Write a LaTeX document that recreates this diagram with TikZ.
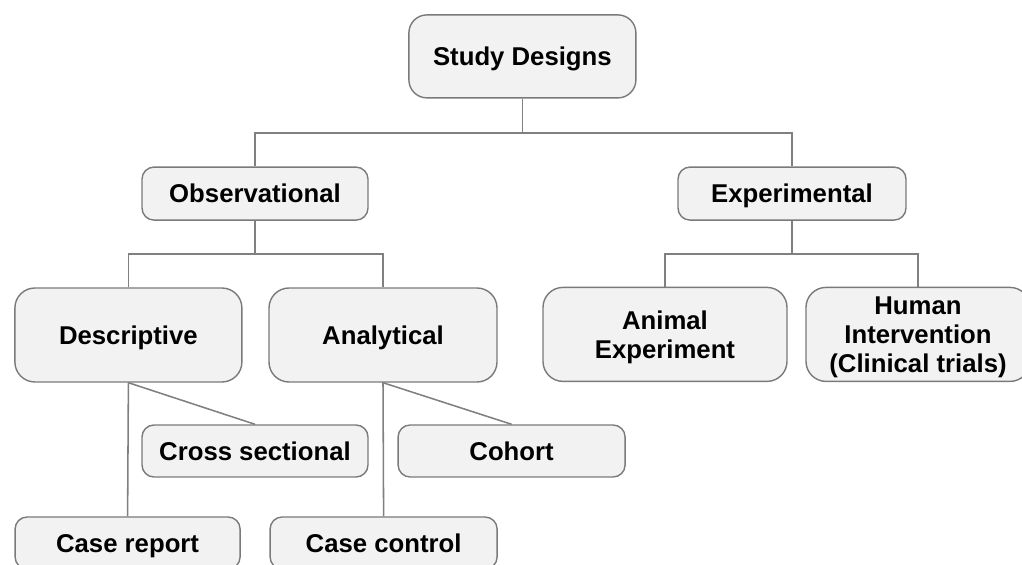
\documentclass[tikz,border=0pt]{standalone}
\usepackage{fontspec}
\setmainfont{Liberation Sans}
\definecolor{boxfill}{HTML}{F2F2F2}
\definecolor{boxline}{HTML}{7A7A7A}
\definecolor{linkgray}{HTML}{808080}

\begin{document}
\begin{tikzpicture}[font=\fontsize{18.3}{20.5}\selectfont\bfseries]
	
	% Styles for the boxes and the links
	\tikzset{
		design/.style={rectangle,draw=boxline,fill=boxfill,line width=1pt,
			align=center,inner sep=0pt},
		oneline/.style={text height=13.1pt,text depth=0pt},
		manyline/.style={text depth=-0.2cm},
		tallbox/.style={design,rounded corners=0.5cm,minimum height=2.35cm},
		flatbox/.style={design,oneline,rounded corners=0.3cm,minimum height=1.3cm},
		link/.style={draw=linkgray,line width=1.1pt}
	}
	
	\useasboundingbox (0,0) rectangle (25.55,-14.125);
	
	%========================================
	% Top level
	%========================================
	\node[design,oneline,rounded corners=0.45cm,minimum width=5.675cm,minimum height=2.075cm]
	(study) at (13.06,-1.41) {Study Designs};
	
	\node[flatbox,minimum width=5.65cm,minimum height=1.325cm] (obs) at (6.375,-4.84) {Observational};
	\node[flatbox,minimum width=5.7cm,minimum height=1.325cm] (exp) at (19.8,-4.84) {Experimental};
	
	%========================================
	% Observational branch
	%========================================
	\node[tallbox,oneline,minimum width=5.675cm] (desc) at (3.21,-8.375) {Descriptive};
	\node[tallbox,oneline,minimum width=5.7cm] (ana) at (9.575,-8.375) {Analytical};
	
	\node[flatbox,minimum width=5.65cm] (cross) at (6.375,-11.275) {Cross sectional};
	\node[flatbox,minimum width=5.675cm] (cohort) at (12.79,-11.275) {Cohort};
	\node[flatbox,minimum width=5.625cm] (caserep) at (3.19,-13.575) {Case report};
	\node[flatbox,minimum width=5.675cm] (casectl) at (9.59,-13.575) {Case control};
	
	%========================================
	% Experimental branch
	%========================================
	\node[tallbox,manyline,minimum width=6.1cm]
	(animal) at (16.625,-8.36) {Animal\\Experiment};
	\node[tallbox,manyline,minimum width=5.6cm]
	(human) at (22.95,-8.36) {Human\\Intervention\\(Clinical trials)};
	
	%========================================
	% Links
	%========================================
	\coordinate (top) at (13.06,-3.325);
	\draw[link] (study.south) -- (top);
	\draw[link] (obs.north) |- (top) -| (exp.north);
	
	\coordinate (obsjoin) at (6.375,-6.35);
	\draw[link] (obs.south) -- (obsjoin);
	\draw[link] (desc.north) |- (obsjoin) -| (ana.north);
	
	\coordinate (expjoin) at (19.8,-6.35);
	\draw[link] (exp.south) -- (expjoin);
	\draw[link] (animal.north) |- (expjoin) -| (human.north);
	
	\draw[link] (desc.south) -- (caserep.north);
	\draw[link] (desc.south) -- (cross.north);
	\draw[link] (ana.south) -- (casectl.north);
	\draw[link] (ana.south) -- (cohort.north);
	
\end{tikzpicture}
\end{document}
